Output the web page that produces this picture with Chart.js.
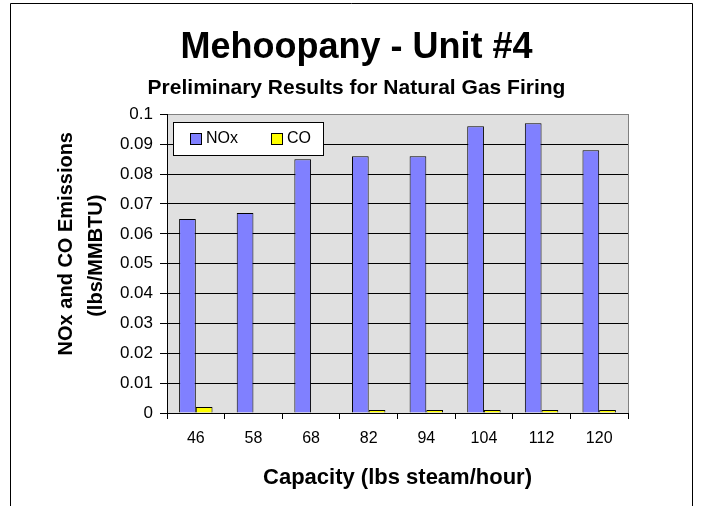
<!DOCTYPE html>
<html lang="en">
<head>
  <meta charset="UTF-8">
  <title>Mehoopany - Unit #4</title>
  <script src="https://cdn.jsdelivr.net/npm/chart.js"></script>
  <style>
    html, body { margin: 0; padding: 0; background: #fff; }
    #wrap { width: 703px; height: 506px; }
  </style>
</head>
<body>
  <div id="wrap"><canvas id="emChart" width="703" height="506"></canvas></div>

  <script>
    const capacities = ['46', '58', '68', '82', '94', '104', '112', '120'];
    const noxValues = [0.065, 0.067, 0.085, 0.086, 0.086, 0.096, 0.097, 0.088];
    const coValues = [0.002, 0, 0, 0.001, 0.001, 0.001, 0.001, 0.001];
    const yTickLabels = ['0', '0.01', '0.02', '0.03', '0.04', '0.05', '0.06', '0.07', '0.08', '0.09', '0.1'];
    const yTitleLines = ['NOx and CO Emissions', '(lbs/MMBTU)'];

    const FONT = 'Liberation Sans, Arial, sans-serif';

    // white page, outer frame, grey plot area
    const backdrop = {
      id: 'backdrop',
      beforeDraw(chart) {
        const { ctx, chartArea: a } = chart;
        ctx.save();
        ctx.fillStyle = '#fff';
        ctx.fillRect(0, 0, chart.width, chart.height);
        ctx.strokeStyle = '#000';
        ctx.lineWidth = 1;
        ctx.beginPath();
        ctx.moveTo(10.5, 520);
        ctx.lineTo(10.5, 3.5);
        ctx.lineTo(692.5, 3.5);
        ctx.lineTo(692.5, 520);
        ctx.stroke();
        ctx.fillStyle = '#E0E0E0';
        ctx.fillRect(a.left, a.top, a.right - a.left, a.bottom - a.top);
        ctx.strokeStyle = '#808080';
        ctx.strokeRect(Math.round(a.left) + 0.5, Math.round(a.top) + 0.5,
          Math.round(a.right - a.left), Math.round(a.bottom - a.top));
        ctx.restore();
      },
      afterDraw(chart) {
        // two-line rotated y axis title, sitting a little above the plot middle
        const { ctx, chartArea: a } = chart;
        const mid = (a.top + a.bottom) / 2;
        ctx.save();
        ctx.fillStyle = '#000';
        ctx.font = 'bold 20px ' + FONT;
        ctx.textAlign = 'center';
        ctx.textBaseline = 'middle';
        [[66, mid - 20], [96, mid - 8]].forEach(([x, y], i) => {
          ctx.save();
          ctx.translate(x, y);
          ctx.rotate(-Math.PI / 2);
          ctx.fillText(yTitleLines[i], 0, 0);
          ctx.restore();
        });
        ctx.restore();
      }
    };

    // legend box inside the plot, top left
    const boxLegend = {
      id: 'boxLegend',
      afterDatasetsDraw(chart) {
        const { ctx, chartArea: a } = chart;
        const x = Math.round(a.left) + 6, y = Math.round(a.top) + 8;
        ctx.save();
        ctx.fillStyle = '#fff';
        ctx.fillRect(x, y, 150, 33);
        ctx.strokeStyle = '#000';
        ctx.lineWidth = 1;
        ctx.strokeRect(x + 0.5, y + 0.5, 150, 33);
        ctx.font = '16px ' + FONT;
        ctx.textBaseline = 'middle';
        const offsets = [17, 98];
        chart.data.datasets.forEach((ds, i) => {
          const sx = x + offsets[i];
          ctx.fillStyle = ds.backgroundColor;
          ctx.fillRect(sx, y + 11, 11, 11);
          ctx.strokeStyle = '#000';
          ctx.strokeRect(sx + 0.5, y + 11.5, 11, 11);
          ctx.fillStyle = '#000';
          ctx.fillText(ds.label, sx + 16, y + 17);
        });
        ctx.restore();
      }
    };

    new Chart(document.getElementById('emChart'), {
      type: 'bar',
      data: {
        labels: capacities,
        datasets: [
          { label: 'NOx', data: noxValues, backgroundColor: '#8080FF', borderColor: '#000', borderWidth: 1 },
          { label: 'CO', data: coValues, backgroundColor: '#FFFF00', borderColor: '#000', borderWidth: 1 }
        ]
      },
      options: {
        responsive: false,
        animation: false,
        layout: { padding: { left: 10, right: 0, top: 0, bottom: 0 } },
        categoryPercentage: 0.58,
        barPercentage: 1.0,
        plugins: {
          legend: { display: false },
          tooltip: { enabled: false },
          title: {
            display: true,
            text: 'Mehoopany - Unit #4',
            color: '#000',
            font: { family: FONT, size: 36, weight: 'bold', lineHeight: 1.2 },
            padding: { top: 26, bottom: 0 }
          },
          subtitle: {
            display: true,
            text: 'Preliminary Results for Natural Gas Firing',
            color: '#000',
            font: { family: FONT, size: 21, weight: 'bold', lineHeight: 1.2 },
            padding: { top: 6, bottom: 14 }
          }
        },
        scales: {
          x: {
            offset: true,
            grid: { drawOnChartArea: false, color: '#000', tickLength: 6, offset: true },
            border: { color: '#000' },
            ticks: { color: '#000', padding: 10, font: { family: FONT, size: 16 }, maxRotation: 0 },
            title: {
              display: true,
              text: 'Capacity (lbs steam/hour)',
              color: '#000',
              font: { family: FONT, size: 22, weight: 'bold', lineHeight: 1.2 },
              padding: { top: 0, bottom: 15 }
            },
            afterFit(s) { s.height = 93; }
          },
          y: {
            min: 0,
            max: 0.1,
            ticks: {
              stepSize: 0.01,
              color: '#000',
              padding: 7,
              font: { family: FONT, size: 17 },
              callback: (v, i) => yTickLabels[i]
            },
            grid: {
              color: c => (c.tick && c.tick.value >= 0.0999 ? '#808080' : '#000'),
              tickColor: '#000',
              tickLength: 7
            },
            border: { color: '#000' },
            afterFit(s) { s.width = 157; }
          },
          spacer: {
            position: 'right',
            display: true,
            grid: { display: false },
            border: { display: false },
            ticks: { display: false },
            afterFit(s) { s.width = 75; }
          }
        }
      },
      plugins: [backdrop, boxLegend]
    });
  </script>
</body>
</html>
